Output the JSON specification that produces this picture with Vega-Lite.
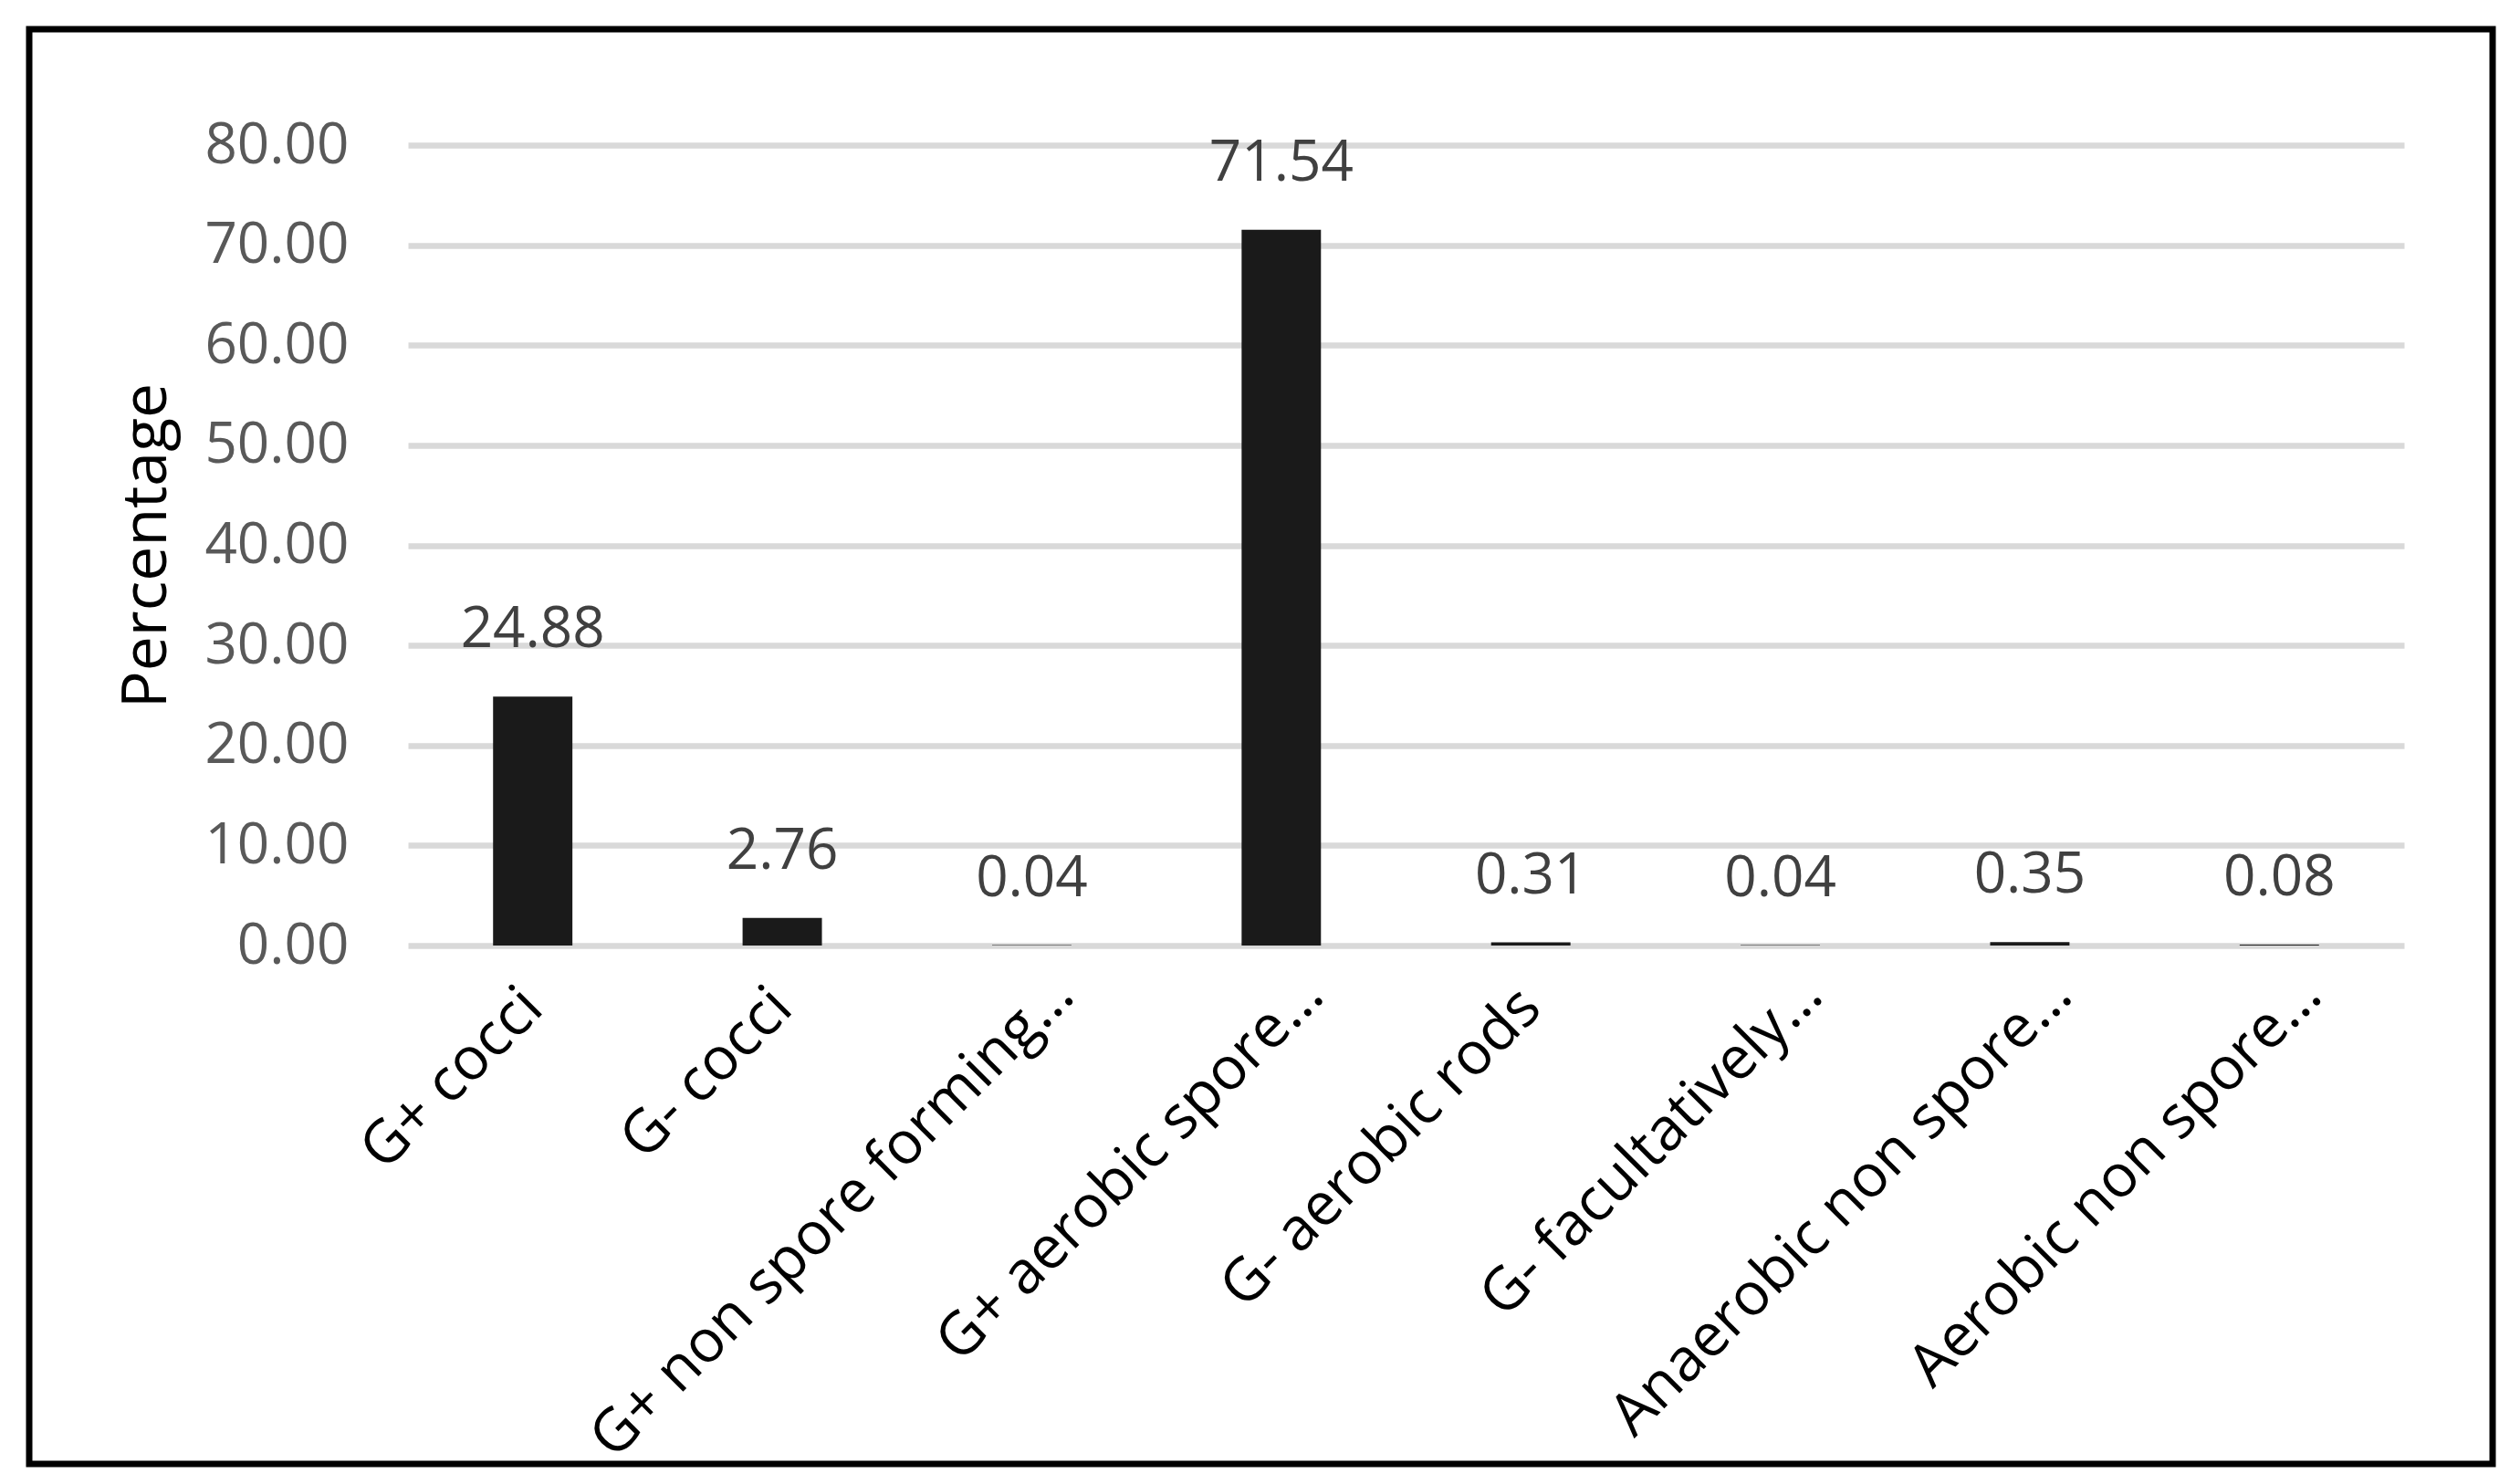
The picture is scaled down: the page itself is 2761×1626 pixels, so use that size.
{
  "$schema": "https://vega.github.io/schema/vega-lite/v6.json",
  "width": 2699,
  "height": 1572,
  "autosize": {"type": "none"},
  "padding": {"left": 32, "top": 32, "right": 30, "bottom": 22},
  "background": "white",
  "config": {
    "view": {"stroke": "black", "strokeWidth": 7},
    "font": "Open Sans"
  },
  "data": {
    "values": [
      {"group": "G+ cocci", "pct": 24.88},
      {"group": "G- cocci", "pct": 2.76},
      {"group": "G+ non spore forming…", "pct": 0.04},
      {"group": "G+ aerobic spore…", "pct": 71.54},
      {"group": "G- aerobic rods", "pct": 0.31},
      {"group": "G- facultatively…", "pct": 0.04},
      {"group": "Anaerobic non spore…", "pct": 0.35},
      {"group": "Aerobic non spore…", "pct": 0.08}
    ]
  },
  "encoding": {
    "x": {
      "field": "group",
      "type": "nominal",
      "sort": null,
      "scale": {"range": [415, 2602], "paddingInner": 0.682, "paddingOuter": 0.341},
      "axis": {
        "title": null,
        "offset": -568,
        "domain": false,
        "ticks": false,
        "tickSize": 0,
        "grid": false,
        "labelAngle": -45,
        "labelAlign": "right",
        "labelBaseline": "middle",
        "labelPadding": {"condition": {"test": "indexof(datum.label, '…') >= 0", "value": 43}, "value": 57},
        "labelOffset": {"condition": {"test": "indexof(datum.label, '…') >= 0", "value": 35}, "value": 0},
        "labelFont": "Open Sans",
        "labelFontSize": 65,
        "labelColor": "#000000",
        "labelLimit": 0
      }
    },
    "y": {
      "field": "pct",
      "type": "quantitative",
      "scale": {"domain": [0, 80], "range": [1004, 127], "nice": false},
      "axis": {
        "title": "Percentage",
        "offset": -415,
        "values": [0, 10, 20, 30, 40, 50, 60, 70, 80],
        "format": ".2f",
        "domain": false,
        "ticks": false,
        "tickSize": 0,
        "grid": true,
        "gridColor": "#d9d9d9",
        "gridWidth": 6.5,
        "labelFont": "Open Sans",
        "labelFontSize": 62,
        "labelColor": "#595959",
        "labelPadding": 65,
        "titleFont": "Open Sans",
        "titleFontSize": 68,
        "titleFontWeight": "normal",
        "titleColor": "#000000",
        "titlePadding": 52
      }
    }
  },
  "layer": [
    {
      "mark": {"type": "bar", "color": "#1a1a1a"}
    },
    {
      "mark": {"type": "text", "baseline": "alphabetic", "align": "center", "dy": -54, "font": "Open Sans", "fontSize": 62, "color": "#404040"},
      "encoding": {
        "text": {"field": "pct", "type": "quantitative", "format": ".2f"}
      }
    }
  ]
}
